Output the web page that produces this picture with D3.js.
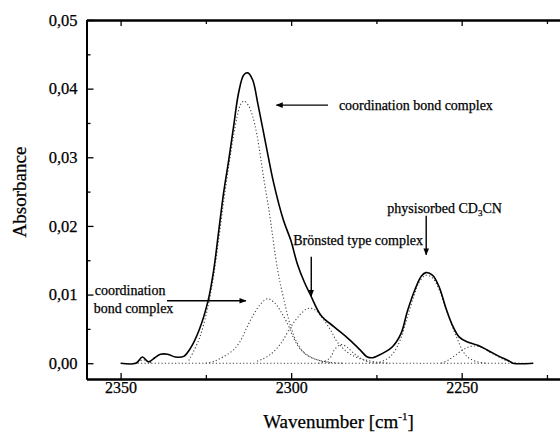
<!DOCTYPE html>
<html>
<head>
<meta charset="utf-8">
<script src="https://cdn.jsdelivr.net/npm/d3@7"></script>
<style>
  body { margin: 0; background: #fff; }
  text { font-family: "Liberation Serif", "Times New Roman", serif; fill: #000; stroke: #000; stroke-width: 0.25px; }
</style>
</head>
<body>
<div id="chart"></div>
<script>
// tick values
const xMajorTicks = [2350, 2300, 2250];
const xMinorTicks = [2325, 2275, 2225];
const yMajorTicks = [0, 0.01, 0.02, 0.03, 0.04, 0.05];
const yMinorTicks = [0.005, 0.015, 0.025, 0.035, 0.045];

// measured spectrum [wavenumber, absorbance]
const measured = [
  [2350, 0], [2345.5, 0], [2343.6, 0.0009], [2341.8, 0.0002], [2340, 0.0008],
  [2338.3, 0.0013], [2336.2, 0.0013], [2333.9, 0.0009], [2331.5, 0.001],
  [2329.5, 0.0022], [2327, 0.0048], [2324.4, 0.009], [2322.7, 0.0136],
  [2321.2, 0.0194], [2319.8, 0.0248], [2318.3, 0.0296], [2316.9, 0.0344],
  [2315.4, 0.0394], [2313.9, 0.042], [2312.7, 0.0423], [2311.3, 0.0413],
  [2309.8, 0.0379], [2307.5, 0.0321], [2305.1, 0.0262], [2302.3, 0.0209],
  [2300.1, 0.0179], [2298.2, 0.0145], [2296.2, 0.0119], [2294.3, 0.0099],
  [2291.3, 0.007], [2287.4, 0.0053], [2283.5, 0.0037], [2280.1, 0.0021],
  [2277.6, 0.0009], [2276.1, 0.0008], [2273.7, 0.0013], [2270.3, 0.0024],
  [2267.8, 0.0043], [2265.9, 0.0076], [2263.4, 0.0111], [2261.8, 0.0127],
  [2260.5, 0.0132], [2258.5, 0.0128], [2256.6, 0.0111], [2254.6, 0.008],
  [2252.7, 0.0055], [2250.7, 0.0038], [2248.3, 0.0031], [2245.3, 0.0026],
  [2242.4, 0.0019], [2239, 0.001], [2236, 0.0003], [2235, 0], [2229, 0]
];

// fitted components
const coordMain = [
  [2330, 0.0004], [2327, 0.0035], [2324.4, 0.0082], [2322.7, 0.0128],
  [2321.2, 0.0182], [2319.8, 0.0235], [2318.3, 0.0287], [2317, 0.0328],
  [2315.8, 0.036], [2314.8, 0.0377], [2313.8, 0.0382], [2312.6, 0.0376],
  [2311.3, 0.036], [2310, 0.0332], [2308, 0.0268], [2306.5, 0.0223],
  [2306, 0.0206], [2304, 0.0137], [2302.1, 0.0092], [2300.1, 0.0053],
  [2298.2, 0.0029], [2295.7, 0.0013], [2292.3, 0.0005], [2288, 0.0001], [2285, 0]
];
const coordSecond = [
  [2325, 0], [2322.5, 0.0003], [2320, 0.0009], [2317, 0.0019], [2314.8, 0.0033],
  [2313, 0.0052], [2311, 0.0071], [2309, 0.0086], [2306.8, 0.0094],
  [2304.5, 0.0086], [2303, 0.0075], [2301.1, 0.0058], [2299.2, 0.0036],
  [2297.2, 0.002], [2294.3, 0.0009], [2291, 0.0003], [2288, 0]
];
const bronsted = [
  [2310, 0.0003], [2308.4, 0.0006], [2306, 0.0013], [2303, 0.0029],
  [2300.1, 0.0053], [2297.7, 0.0069], [2295.5, 0.0079], [2294.3, 0.008],
  [2292.8, 0.0077], [2290.4, 0.0063], [2288.4, 0.0048], [2286.5, 0.0031],
  [2283.5, 0.0016], [2280.6, 0.0008], [2277.6, 0.0004], [2274, 0.0001], [2271, 0]
];
const smallBand = [
  [2292, 0], [2290, 0.0003], [2288.4, 0.0009], [2287.4, 0.0019], [2286, 0.0026],
  [2285, 0.0027], [2283.5, 0.0023], [2281.5, 0.0014], [2279.5, 0.0007],
  [2277.5, 0.0002], [2275, 0]
];
const physisorbed = [
  [2275, 0], [2272, 0.0006], [2270, 0.0015], [2268, 0.0034], [2266, 0.0066],
  [2264, 0.0098], [2262.5, 0.0118], [2260.5, 0.0128], [2258.5, 0.0124],
  [2256.6, 0.0107], [2254.6, 0.0079], [2253.2, 0.006], [2251.5, 0.0038],
  [2249.8, 0.0019], [2248.3, 0.0009], [2246, 0.0003], [2243, 0]
];
const shoulderBand = [
  [2256, 0], [2254.1, 0.0004], [2252, 0.0011], [2249.8, 0.0019], [2247.8, 0.0024],
  [2246, 0.0025], [2244, 0.0023], [2242.4, 0.0018], [2239.5, 0.001],
  [2237, 0.0004], [2234, 0]
];
const leftBand = [
  [2346, 0], [2344.5, 0.0003], [2343.3, 0.0005], [2342, 0.0002], [2340.5, 0]
];
const baseline = [[2345, 0], [2231, 0]];

// set up SVG size
const svgWidth = 560;
const svgHeight = 439;

const margin = {
  top: 20,
  right: -4,
  bottom: 60,
  left: 86.5
};

const width = svgWidth - margin.left - margin.right;
const height = svgHeight - margin.top - margin.bottom;

const svg = d3.select("#chart")
  .append("svg")
  .attr("width", svgWidth)
  .attr("height", svgHeight);

const chartGroup = svg.append("g")
  .attr("transform", `translate(${margin.left}, ${margin.top})`);

// scales (wavenumber runs right to left)
const xScale = d3.scaleLinear()
  .domain([2360, 2220])
  .range([0, width]);

const yScale = d3.scaleLinear()
  .domain([-0.0023, 0.05])
  .range([height, 0]);

const commaFmt = d => d3.format(".2f")(d).replace(".", ",");

// axes
const bottomAxis = d3.axisBottom(xScale)
  .tickValues(xMajorTicks).tickSizeInner(-6).tickSizeOuter(0).tickPadding(3)
  .tickFormat(d3.format("d"));
const bottomMinor = d3.axisBottom(xScale)
  .tickValues(xMinorTicks).tickSizeInner(-4).tickSizeOuter(0).tickFormat("");
const topAxis = d3.axisTop(xScale)
  .tickValues(xMajorTicks).tickSizeInner(-6).tickSizeOuter(0).tickFormat("");
const topMinor = d3.axisTop(xScale)
  .tickValues(xMinorTicks).tickSizeInner(-4).tickSizeOuter(0).tickFormat("");
const leftAxis = d3.axisLeft(yScale)
  .tickValues(yMajorTicks).tickSizeInner(-7).tickSizeOuter(0).tickPadding(9)
  .tickFormat(commaFmt);
const leftMinor = d3.axisLeft(yScale)
  .tickValues(yMinorTicks).tickSizeInner(-4).tickSizeOuter(0).tickFormat("");

const gx = chartGroup.append("g").attr("transform", `translate(0, ${height})`).call(bottomAxis);
chartGroup.append("g").attr("transform", `translate(0, ${height})`).call(bottomMinor);
chartGroup.append("g").call(topAxis);
chartGroup.append("g").call(topMinor);
const gy = chartGroup.append("g").call(leftAxis);
chartGroup.append("g").call(leftMinor);

chartGroup.selectAll(".domain").attr("stroke", "#000").attr("stroke-width", 2);
chartGroup.selectAll(".tick line").attr("stroke", "#000").attr("stroke-width", 1.3);
gx.selectAll("text").attr("font-size", 16).attr("font-family", "Liberation Serif").attr("fill", "#000");
gy.selectAll("text").attr("font-size", 16.5).attr("font-family", "Liberation Serif").attr("fill", "#000");

// axis titles
chartGroup.append("text")
  .attr("x", 252)
  .attr("y", height + 49)
  .attr("text-anchor", "middle")
  .attr("font-size", 19)
  .text("Wavenumber [cm")
  .append("tspan").attr("dy", -8).attr("font-size", 11).text("-1")
  .select(function() { return this.parentNode; })
  .append("tspan").attr("dy", 8).text("]");

chartGroup.append("text")
  .attr("transform", "rotate(-90)")
  .attr("x", -172)
  .attr("y", -61)
  .attr("text-anchor", "middle")
  .attr("font-size", 19)
  .text("Absorbance");

// curves
const line = d3.line()
  .x(d => xScale(d[0]))
  .y(d => yScale(d[1]))
  .curve(d3.curveCatmullRom.alpha(0.5));

const components = [coordMain, coordSecond, bronsted, smallBand, physisorbed, shoulderBand, leftBand, baseline];

chartGroup.selectAll(".component")
  .data(components)
  .join("path")
  .attr("class", "component")
  .attr("d", line)
  .attr("fill", "none")
  .attr("stroke", "#444")
  .attr("stroke-width", 1.1)
  .attr("stroke-dasharray", "1.2,2.2");

chartGroup.append("path")
  .datum(measured)
  .attr("d", line)
  .attr("fill", "none")
  .attr("stroke", "#000")
  .attr("stroke-width", 1.6);

// annotations
svg.append("defs").append("marker")
  .attr("id", "head")
  .attr("viewBox", "0 0 10 10")
  .attr("refX", 9).attr("refY", 5)
  .attr("markerWidth", 7).attr("markerHeight", 7)
  .attr("markerUnits", "userSpaceOnUse")
  .attr("orient", "auto")
  .append("path").attr("d", "M0,1 L10,5 L0,9 Z").attr("fill", "#000");

function arrow(x1, y1, x2, y2) {
  chartGroup.append("line")
    .attr("x1", xScale(x1)).attr("y1", yScale(y1))
    .attr("x2", xScale(x2)).attr("y2", yScale(y2))
    .attr("stroke", "#000").attr("stroke-width", 1.4)
    .attr("marker-end", "url(#head)");
}

function label(wn, a, str) {
  return chartGroup.append("text")
    .attr("x", xScale(wn)).attr("y", yScale(a))
    .attr("font-size", 14)
    .text(str);
}

arrow(2289.2, 0.0376, 2304.3, 0.0376);
label(2286, 0.0369, "coordination bond complex");

label(2357.6, 0.0099, "coordination");
label(2357.9, 0.0073, "bond complex");
arrow(2336.4, 0.0091, 2313.3, 0.0091);

label(2299.4, 0.0172, "Brönsted type complex");
arrow(2294.1, 0.0155, 2294.1, 0.0098);

const phys = label(2271.8, 0.0219, "physisorbed CD");
phys.append("tspan").attr("dy", 3).attr("font-size", 9).text("3");
phys.append("tspan").attr("dy", -3).text("CN");
arrow(2260.4, 0.0215, 2260.4, 0.0158);
</script>
</body>
</html>
